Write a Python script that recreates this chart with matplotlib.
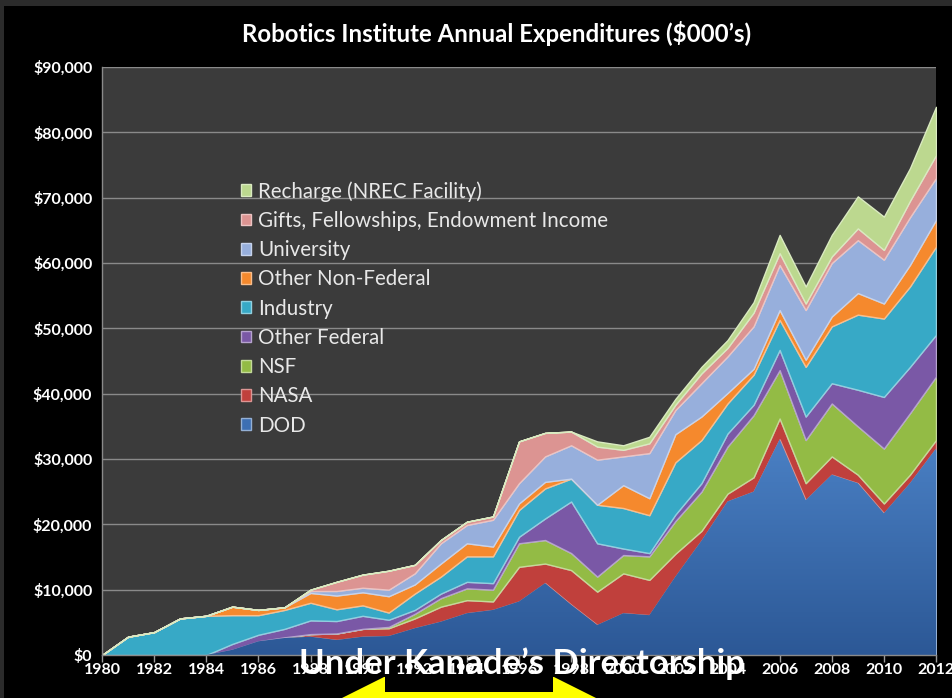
import numpy as np
import matplotlib
matplotlib.use('Agg')
import matplotlib.pyplot as plt
import matplotlib.colors as mcolors
from matplotlib.patches import Rectangle, Polygon
from matplotlib.ticker import FuncFormatter, MultipleLocator

plt.rcParams['font.family'] = ['Lato', 'DejaVu Sans']

# Annual expenditures by source, $000's
years = list(range(1980, 2013))
dod = [0, 0, 0, 0, 0, 800, 2100, 2600, 2800, 2300, 2800, 2900, 4100, 5100, 6400, 6900, 8200,
       11000, 7700, 4600, 6400, 6100, 12000, 17500, 23500, 25000, 33000, 23700, 27600, 26300,
       21700, 26300, 31600]
nasa = [0, 0, 0, 0, 0, 0, 0, 100, 400, 1000, 1200, 1200, 1500, 2300, 2000, 1300, 5300,
        3000, 5300, 5100, 6100, 5400, 3500, 1500, 1200, 2200, 3200, 2600, 2800, 1300,
        1500, 1300, 1300]
nsf = [0, 0, 0, 0, 0, 0, 0, 0, 0, 0, 0, 200, 700, 1300, 1800, 1800, 3600,
       3600, 2600, 2300, 2800, 3600, 5000, 6000, 7200, 9500, 7400, 6600, 8100, 7400,
       8400, 9400, 9700]
other_federal = [0, 0, 0, 0, 0, 900, 1000, 1300, 2100, 1900, 2000, 1100, 600, 700, 1000, 1000, 1000,
                 3300, 7900, 5100, 1000, 500, 1000, 1300, 2000, 1600, 3100, 3600, 3100, 5600,
                 7900, 7100, 6400]
industry = [0, 2800, 3500, 5600, 6000, 4400, 3000, 2900, 2700, 1800, 1600, 1100, 2500, 2600, 3900, 4100, 4100,
            4600, 3500, 5900, 6200, 5800, 8000, 6600, 4600, 4600, 4600, 7600, 8700, 11500,
            12000, 12300, 13500]
other_nonfed = [0, 0, 0, 0, 0, 1300, 800, 400, 1500, 2100, 2000, 2500, 1400, 2000, 2000, 1500, 1000,
                1000, 0, 0, 3500, 2600, 4300, 3600, 1600, 900, 1500, 1100, 1500, 3300,
                2300, 3300, 4100]
university = [0, 0, 0, 0, 0, 0, 0, 0, 300, 700, 700, 1000, 1700, 3100, 2800, 4100, 3100,
              3900, 5100, 6900, 4400, 6900, 3700, 5100, 5600, 6500, 6900, 7600, 8200, 8100,
              6700, 7300, 6400]
gifts = [0, 0, 0, 0, 0, 0, 0, 0, 200, 1400, 2000, 2900, 1300, 500, 500, 500, 6400,
         3600, 2100, 2000, 1000, 1500, 800, 1500, 1300, 2100, 1800, 1000, 1000, 1800,
         1500, 2500, 3500]
recharge = [0, 0, 0, 0, 0, 0, 0, 0, 0, 0, 0, 0, 0, 0, 0, 0, 0,
            0, 0, 800, 700, 1000, 900, 1000, 1200, 1600, 2800, 2600, 3300, 4900,
            5100, 5000, 7400]

labels = ['DOD', 'NASA', 'NSF', 'Other Federal', 'Industry', 'Other Non-Federal',
          'University', 'Gifts, Fellowships, Endowment Income', 'Recharge (NREC Facility)']
colors = ['#3d6fb3', '#c0403c', '#93bb45', '#7a58a6', '#37a9c6', '#f5892d',
          '#97afdc', '#dc9492', '#bcd88f']

W, H = 953, 698
fig = plt.figure(figsize=(W / 100, H / 100), dpi=100, facecolor='#2b2b2b')


def fx(x):
    return x / W


def fy(y):
    return 1 - y / H


# black slide panel
fig.add_artist(Rectangle((fx(4), 0), 1 - fx(4), fy(6), transform=fig.transFigure,
                         facecolor='black', edgecolor='none', zorder=-3))

# yellow arrow head peeking in from the bottom, with black box behind the labels
fig.add_artist(Polygon([(fx(340), fy(699)), (fx(384), fy(677)), (fx(554), fy(677)), (fx(598), fy(699))],
                       closed=True, transform=fig.transFigure, facecolor='#ffff00',
                       edgecolor='none', zorder=-2))
fig.add_artist(Rectangle((fx(385), fy(692)), fx(553) - fx(385), fy(677) - fy(692),
                         transform=fig.transFigure, facecolor='black', edgecolor='none', zorder=-1))

ax = fig.add_axes([fx(102), fy(655), fx(936) - fx(102), fy(67) - fy(655)])
ax.set_facecolor('#3b3b3b')

series = [dod, nasa, nsf, other_federal, industry, other_nonfed, university, gifts, recharge]
polys = ax.stackplot(years, *series, labels=labels, colors=colors, zorder=2)
for p, c in zip(polys, colors):
    light = mcolors.to_rgb(c)
    light = tuple(min(1, v * 0.55 + 0.45) for v in light)
    p.set_edgecolor(light)
    p.set_linewidth(1.0)

# darker-at-the-bottom shading on the DOD layer, like the original's gradient fill
grad = np.linspace(0, 1, 256).reshape(-1, 1)
cmap = mcolors.LinearSegmentedColormap.from_list('dod', ['#2c5896', '#4a80c4'])
img = ax.imshow(grad, cmap=cmap, aspect='auto', origin='lower',
                extent=[1980, 2012, 0, max(dod)], zorder=2.5)
img.set_clip_path(polys[0].get_paths()[0], ax.transData)

ax.set_xlim(1980, 2012)
ax.set_ylim(0, 90000)
ax.yaxis.set_major_locator(MultipleLocator(10000))
ax.yaxis.set_major_formatter(FuncFormatter(lambda v, pos: '${:,.0f}'.format(v)))
ax.set_xticks(years[::2])
ax.grid(axis='y', color='#8a8a8a', linewidth=1.0, zorder=1)
ax.set_axisbelow(True)

for side in ['top', 'right']:
    ax.spines[side].set_visible(False)
for side in ['left', 'bottom']:
    ax.spines[side].set_color('#8a8a8a')
    ax.spines[side].set_linewidth(1.0)

ax.tick_params(axis='x', colors='#9a9a9a', length=5, width=1, pad=1,
               labelsize=11.5, labelcolor='white')
ax.tick_params(axis='y', length=0, pad=7, labelsize=11.5, labelcolor='white')
for t in ax.get_xticklabels() + ax.get_yticklabels():
    t.set_fontweight('bold')

handles, labs = ax.get_legend_handles_labels()
leg = ax.legend(handles[::-1], labs[::-1], loc='upper left',
                bbox_to_anchor=(fx(241), fy(181)), bbox_transform=fig.transFigure,
                frameon=False, fontsize=14.8, labelcolor='#e8e8e8',
                handlelength=0.5, handleheight=0.5, handletextpad=0.35,
                labelspacing=0.45, borderpad=0, borderaxespad=0)

fig.text(fx(497), fy(33), 'Robotics Institute Annual Expenditures ($000\u2019s)',
         color='white', fontsize=17.3, fontweight='bold', ha='center', va='center')

fig.text(fx(522), fy(664), 'Under Kanade\u2019s Directorship', color='white',
         fontsize=25, fontweight='bold', ha='center', va='center', zorder=10)

fig.savefig('out.png', dpi=100, facecolor=fig.get_facecolor())
